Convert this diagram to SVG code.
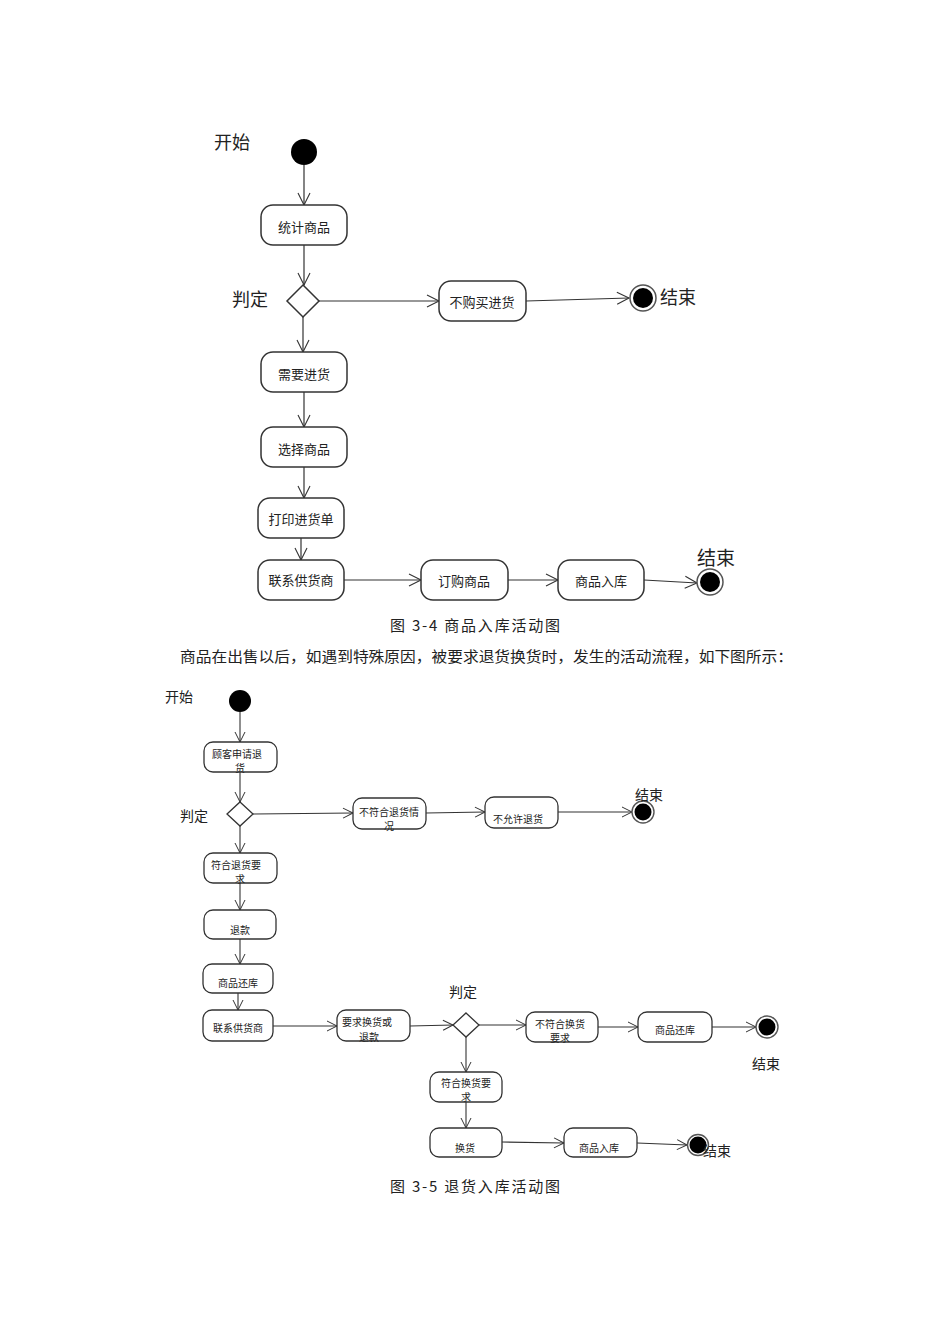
<svg xmlns="http://www.w3.org/2000/svg" width="950" height="1344" viewBox="0 0 950 1344">
<defs>
<marker id="ah" markerUnits="userSpaceOnUse" markerWidth="16" markerHeight="16" refX="13" refY="7" orient="auto">
<path d="M1,1 L13,7 L1,13" fill="none" stroke="#333" stroke-width="1.1"/>
</marker>
<marker id="as" markerUnits="userSpaceOnUse" markerWidth="14" markerHeight="14" refX="11" refY="6" orient="auto">
<path d="M1,1 L11,6 L1,11" fill="none" stroke="#333" stroke-width="1"/>
</marker>
</defs>
<style>
text{font-family:"Noto Sans CJK SC","Liberation Serif",serif;fill:#222}
.box{fill:#fff;stroke:#333;stroke-width:1.5}
.bs{fill:#fff;stroke:#333;stroke-width:1.3}
.c{stroke:#333;stroke-width:1.2;fill:none;marker-end:url(#ah)}
.cs{stroke:#333;stroke-width:1.1;fill:none;marker-end:url(#as)}
.t{font-size:13px;text-anchor:middle}
.ts{font-size:10px;text-anchor:middle}
.lb{font-size:18px}
.lbs{font-size:14px}
.cap{font-size:15px}
</style>
<rect width="950" height="1344" fill="#fff"/>

<g id="connectors1">
<line class="c" x1="304" y1="165" x2="304" y2="205"/>
<line class="c" x1="304" y1="245" x2="304" y2="285"/>
<line class="c" x1="319" y1="301" x2="439" y2="301"/>
<line class="c" x1="526" y1="301" x2="629" y2="298"/>
<line class="c" x1="303" y1="317" x2="303" y2="352"/>
<line class="c" x1="304" y1="392" x2="304" y2="427"/>
<line class="c" x1="304" y1="467" x2="304" y2="498"/>
<line class="c" x1="301" y1="538" x2="301" y2="560"/>
<line class="c" x1="344" y1="580" x2="421" y2="580"/>
<line class="c" x1="508" y1="580" x2="558" y2="580"/>
<line class="c" x1="644" y1="580" x2="697" y2="583"/>
</g>

<g id="start1"><text class="lb" x="214" y="149">开始</text><circle cx="304" cy="152" r="13" fill="#000"/></g>
<g id="n_tongji"><rect class="box" x="261" y="205" width="86" height="40" rx="12"/><text class="t" x="304" y="232">统计商品</text></g>
<g id="d1"><polygon class="box" points="303,285 319,301 303,317 287,301"/><text class="lb" x="232" y="306">判定</text></g>
<g id="n_bugou"><rect class="box" x="439" y="281" width="87" height="40" rx="12"/><text class="t" x="482" y="307">不购买进货</text></g>
<g id="end1"><circle cx="643" cy="298" r="13" fill="#fff" stroke="#555" stroke-width="1.5"/><circle cx="643" cy="298" r="10" fill="#000"/><text class="lb" x="660" y="304">结束</text></g>
<g id="n_xuyao"><rect class="box" x="261" y="352" width="86" height="40" rx="12"/><text class="t" x="304" y="379">需要进货</text></g>
<g id="n_xuanze"><rect class="box" x="261" y="427" width="86" height="40" rx="12"/><text class="t" x="304" y="454">选择商品</text></g>
<g id="n_dayin"><rect class="box" x="258" y="498" width="86" height="40" rx="12"/><text class="t" x="301" y="524">打印进货单</text></g>
<g id="n_lianxi"><rect class="box" x="258" y="560" width="86" height="40" rx="12"/><text class="t" x="301" y="585">联系供货商</text></g>
<g id="n_dinggou"><rect class="box" x="421" y="560" width="87" height="40" rx="12"/><text class="t" x="464" y="586">订购商品</text></g>
<g id="n_ruku"><rect class="box" x="558" y="560" width="86" height="40" rx="12"/><text class="t" x="601" y="586">商品入库</text></g>
<g id="end2"><circle cx="710" cy="582" r="13" fill="#fff" stroke="#555" stroke-width="1.5"/><circle cx="710" cy="582" r="10" fill="#000"/><text class="lb" x="697" y="565" style="font-size:19px">结束</text></g>

<text class="cap" x="390" y="631" textLength="170" lengthAdjust="spacing">图 3-4 商品入库活动图</text>
<text class="cap" x="180" y="662" textLength="613" lengthAdjust="spacingAndGlyphs">商品在出售以后，如遇到特殊原因，被要求退货换货时，发生的活动流程，如下图所示：</text>

<g id="connectors2">
<line class="cs" x1="240" y1="712" x2="240" y2="742"/>
<line class="cs" x1="240" y1="772" x2="240" y2="802"/>
<line class="cs" x1="253" y1="814" x2="353" y2="813"/>
<line class="cs" x1="426" y1="813" x2="485" y2="812"/>
<line class="cs" x1="558" y1="812" x2="632" y2="812"/>
<line class="cs" x1="240" y1="826" x2="240" y2="853"/>
<line class="cs" x1="240" y1="883" x2="240" y2="910"/>
<line class="cs" x1="240" y1="939" x2="240" y2="964"/>
<line class="cs" x1="238" y1="993" x2="238" y2="1010"/>
<line class="cs" x1="273" y1="1026" x2="337" y2="1026"/>
<line class="cs" x1="410" y1="1026" x2="453" y2="1025"/>
<line class="cs" x1="479" y1="1025" x2="526" y2="1025"/>
<line class="cs" x1="598" y1="1027" x2="638" y2="1027"/>
<line class="cs" x1="712" y1="1027" x2="756" y2="1027"/>
<line class="cs" x1="466" y1="1037" x2="466" y2="1072"/>
<line class="cs" x1="466" y1="1102" x2="466" y2="1128"/>
<line class="cs" x1="502" y1="1142" x2="564" y2="1143"/>
<line class="cs" x1="637" y1="1143" x2="687" y2="1145"/>
</g>

<g id="start2"><text class="lbs" x="165" y="702">开始</text><circle cx="240" cy="701" r="11" fill="#000"/></g>
<g id="m_guke"><rect class="bs" x="204" y="742" width="73" height="30" rx="9"/><text class="ts" x="237" y="758">顾客申请退</text><text class="ts" x="240" y="772">货</text></g>
<g id="d2"><polygon class="bs" points="240,802 253,814 240,826 227,814"/><text class="lbs" x="180" y="821">判定</text></g>
<g id="m_bufuhe"><rect class="bs" x="353" y="798" width="73" height="31" rx="9"/><text class="ts" x="389" y="816">不符合退货情</text><text class="ts" x="389" y="830">况</text></g>
<g id="m_buyunxu"><rect class="bs" x="485" y="797" width="73" height="31" rx="9"/><text class="ts" x="518" y="823">不允许退货</text></g>
<g id="end3"><circle cx="643" cy="812" r="11" fill="#fff" stroke="#555" stroke-width="1.4"/><circle cx="643" cy="812" r="8.5" fill="#000"/><text class="lbs" x="635" y="800">结束</text></g>
<g id="m_fuhe"><rect class="bs" x="204" y="853" width="73" height="30" rx="9"/><text class="ts" x="236" y="869">符合退货要</text><text class="ts" x="240" y="883">求</text></g>
<g id="m_tuikuan"><rect class="bs" x="204" y="910" width="72" height="29" rx="9"/><text class="ts" x="240" y="934">退款</text></g>
<g id="m_huanku"><rect class="bs" x="203" y="964" width="70" height="29" rx="9"/><text class="ts" x="238" y="987">商品还库</text></g>
<g id="m_lianxi"><rect class="bs" x="203" y="1010" width="70" height="31" rx="9"/><text class="ts" x="238" y="1032">联系供货商</text></g>
<g id="m_yaoqiu"><rect class="bs" x="337" y="1010" width="73" height="31" rx="9"/><text class="ts" x="367" y="1026">要求换货或</text><text class="ts" x="369" y="1041">退款</text></g>
<g id="d3"><polygon class="bs" points="466,1013 479,1025 466,1037 453,1025"/><text class="lbs" x="449" y="997">判定</text></g>
<g id="m_bufuhehuan"><rect class="bs" x="526" y="1012" width="72" height="30" rx="9"/><text class="ts" x="560" y="1028">不符合换货</text><text class="ts" x="560" y="1042">要求</text></g>
<g id="m_huanku2"><rect class="bs" x="638" y="1012" width="74" height="30" rx="9"/><text class="ts" x="675" y="1034">商品还库</text></g>
<g id="end4"><circle cx="767" cy="1027" r="11" fill="#fff" stroke="#555" stroke-width="1.4"/><circle cx="767" cy="1027" r="8.5" fill="#000"/><text class="lbs" x="752" y="1069">结束</text></g>
<g id="m_fuhehuan"><rect class="bs" x="430" y="1072" width="72" height="30" rx="9"/><text class="ts" x="466" y="1087">符合换货要</text><text class="ts" x="466" y="1101">求</text></g>
<g id="m_huanhuo"><rect class="bs" x="430" y="1128" width="72" height="29" rx="9"/><text class="ts" x="465" y="1152">换货</text></g>
<g id="m_ruku2"><rect class="bs" x="564" y="1128" width="73" height="29" rx="9"/><text class="ts" x="599" y="1152">商品入库</text></g>
<g id="end5"><circle cx="698" cy="1145" r="10.5" fill="#fff" stroke="#555" stroke-width="1.4"/><circle cx="698" cy="1145" r="8.5" fill="#000"/><text class="lbs" x="703" y="1156">结束</text></g>

<text class="cap" x="390" y="1192" textLength="170" lengthAdjust="spacing">图 3-5 退货入库活动图</text>
</svg>
